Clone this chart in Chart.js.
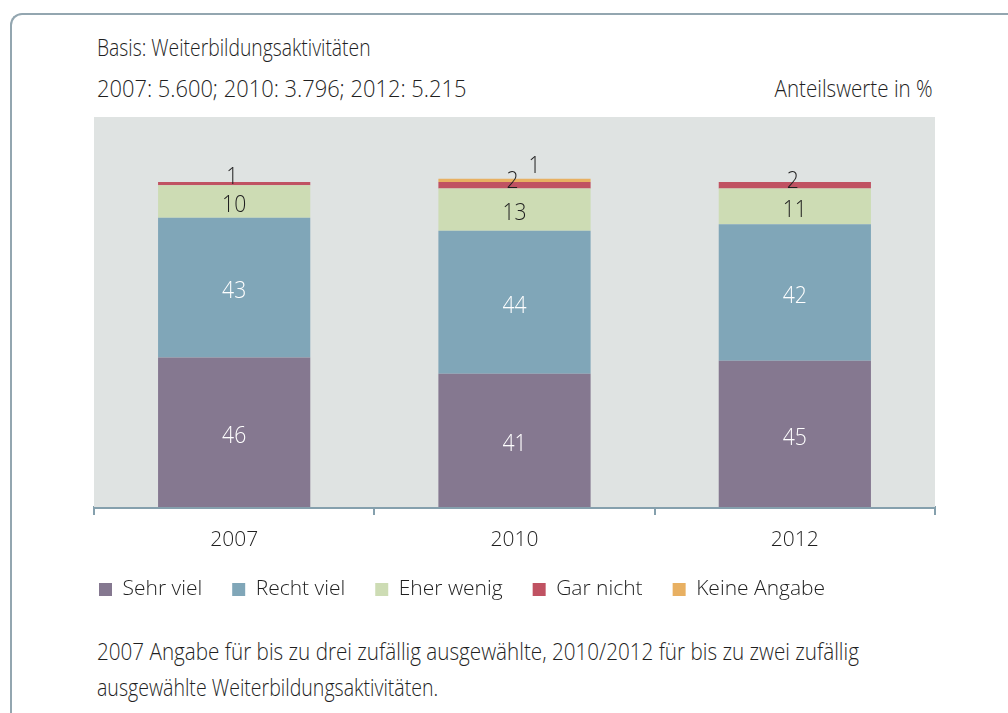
<!DOCTYPE html>
<html>
<head>
<meta charset="utf-8">
<script src="https://cdn.jsdelivr.net/npm/chart.js@4"></script>
<style>
  html, body { margin: 0; padding: 0; background: #fff; }
  body { width: 1008px; height: 713px; position: relative; overflow: hidden;
         font-family: 'Open Sans', sans-serif; color: #1f1f1f; }
  .frame { position: absolute; left: 10px; top: 13px; width: 1100px; height: 800px;
           border-top: 2px solid #93a6b0; border-left: 2px solid #93a6b0; border-top-left-radius: 12px; }
  .txt { position: absolute; font-size: 23px; line-height: 30px; white-space: nowrap; font-weight: 300;
         transform-origin: left center; }
  .txt.r { transform-origin: right center; }
  #wrap { position: absolute; left: 0; top: 0; width: 1008px; height: 610px; }
</style>
</head>
<body>
<div class="frame"></div>
<div class="txt" style="left:97px; top:32px; transform: scaleX(0.84);">Basis: Weiterbildungsaktivitäten</div>
<div class="txt" style="left:97px; top:73px; transform: scaleX(0.95);">2007: 5.600; 2010: 3.796; 2012: 5.215</div>
<div class="txt r" style="right:75px; top:73px; transform: scaleX(0.895);">Anteilswerte in %</div>
<div id="wrap"><canvas id="myStackChart"></canvas></div>
<div class="txt" style="left:97px; top:636px; transform: scaleX(0.898);">2007 Angabe für bis zu drei zufällig ausgewählte, 2010/2012 für bis zu zwei zufällig</div>
<div class="txt" style="left:97px; top:672px; transform: scaleX(0.85);">ausgewählte Weiterbildungsaktivitäten.</div>
<script>
var years = ['2007', '2010', '2012'];
var sehrViel = [46, 41, 45];
var rechtViel = [43, 44, 42];
var eherWenig = [10, 13, 11];
var garNicht = [1, 2, 2];
var keineAngabe = [null, 1, null];

var fontFamily = "'Open Sans', sans-serif";

// grey plot background
var plotBg = {
    id: 'plotBg',
    beforeDatasetsDraw: function (chart) {
        var a = chart.chartArea, c = chart.ctx;
        c.save();
        c.fillStyle = '#dfe3e2';
        c.fillRect(a.left, a.top, a.right - a.left, a.bottom - a.top);
        c.restore();
    }
};

// value labels, small segments written above the bar
var valueLabels = {
    id: 'valueLabels',
    afterDatasetsDraw: function (chart) {
        var c = chart.ctx;
        var lastSmall = {};
        function put(txt, x, y) {
            c.save();
            c.translate(x, y);
            c.scale(0.88, 1);
            c.fillText(txt, 0, 0);
            c.restore();
        }
        c.save();
        c.font = '300 24px ' + fontFamily;
        c.textAlign = 'center';
        chart.data.datasets.forEach(function (ds, i) {
            var meta = chart.getDatasetMeta(i);
            meta.data.forEach(function (bar, j) {
                var v = ds.data[j];
                if (v == null) return;
                if (v >= 5) {
                    c.fillStyle = ds.labelColor;
                    c.textBaseline = 'middle';
                    put(v, bar.x, (bar.y + bar.base) / 2 + 4);
                } else {
                    c.fillStyle = '#1f1f1f';
                    c.textBaseline = 'alphabetic';
                    if (lastSmall[j] == null) {
                        lastSmall[j] = bar.base - 1;
                        put(v, bar.x - 2, lastSmall[j]);
                    } else {
                        lastSmall[j] = lastSmall[j] - 15;
                        put(v, bar.x + 20, lastSmall[j]);
                    }
                }
            });
        });
        c.restore();
    }
};

var ctx = document.getElementById('myStackChart').getContext('2d');
var myStackChart = new Chart(ctx, {
    type: 'bar',
    data: {
        labels: years,
        datasets: [
            { label: 'Sehr viel', data: sehrViel, backgroundColor: '#857890', labelColor: '#ffffff' },
            { label: 'Recht viel', data: rechtViel, backgroundColor: '#80a6b8', labelColor: '#ffffff' },
            { label: 'Eher wenig', data: eherWenig, backgroundColor: '#cddcb4', labelColor: '#1f1f1f' },
            { label: 'Gar nicht', data: garNicht, backgroundColor: '#c05262', labelColor: '#1f1f1f' },
            { label: 'Keine Angabe', data: keineAngabe, backgroundColor: '#e8b062', labelColor: '#1f1f1f' }
        ]
    },
    options: {
        responsive: true,
        maintainAspectRatio: false,
        animation: false,
        categoryPercentage: 1,
        barPercentage: 0.543,
        layout: { padding: { left: 69, right: 73, top: 117, bottom: 0 } },
        plugins: {
            tooltip: { enabled: false },
            legend: {
                position: 'bottom',
                align: 'start',
                labels: {
                    boxWidth: 13,
                    boxHeight: 13,
                    padding: 30,
                    color: '#1f1f1f',
                    font: { family: fontFamily, size: 21, weight: 300 }
                }
            }
        },
        scales: {
            x: {
                stacked: true,
                grid: { display: true, drawOnChartArea: false, offset: true, color: '#85a0ad', tickLength: 8, lineWidth: 2 },
                border: { display: true, color: '#85a0ad', width: 3 },
                ticks: { color: '#1f1f1f', padding: 12, font: { family: fontFamily, size: 21, weight: 300 } },
                afterFit: function (s) { s.height = 42; }
            },
            y: {
                stacked: true,
                min: 0,
                max: 120,
                grid: { display: false },
                border: { display: false },
                ticks: { display: false },
                afterFit: function (s) { s.width = 25; }
            }
        }
    },
    plugins: [plotBg, valueLabels]
});
</script>
</body>
</html>
